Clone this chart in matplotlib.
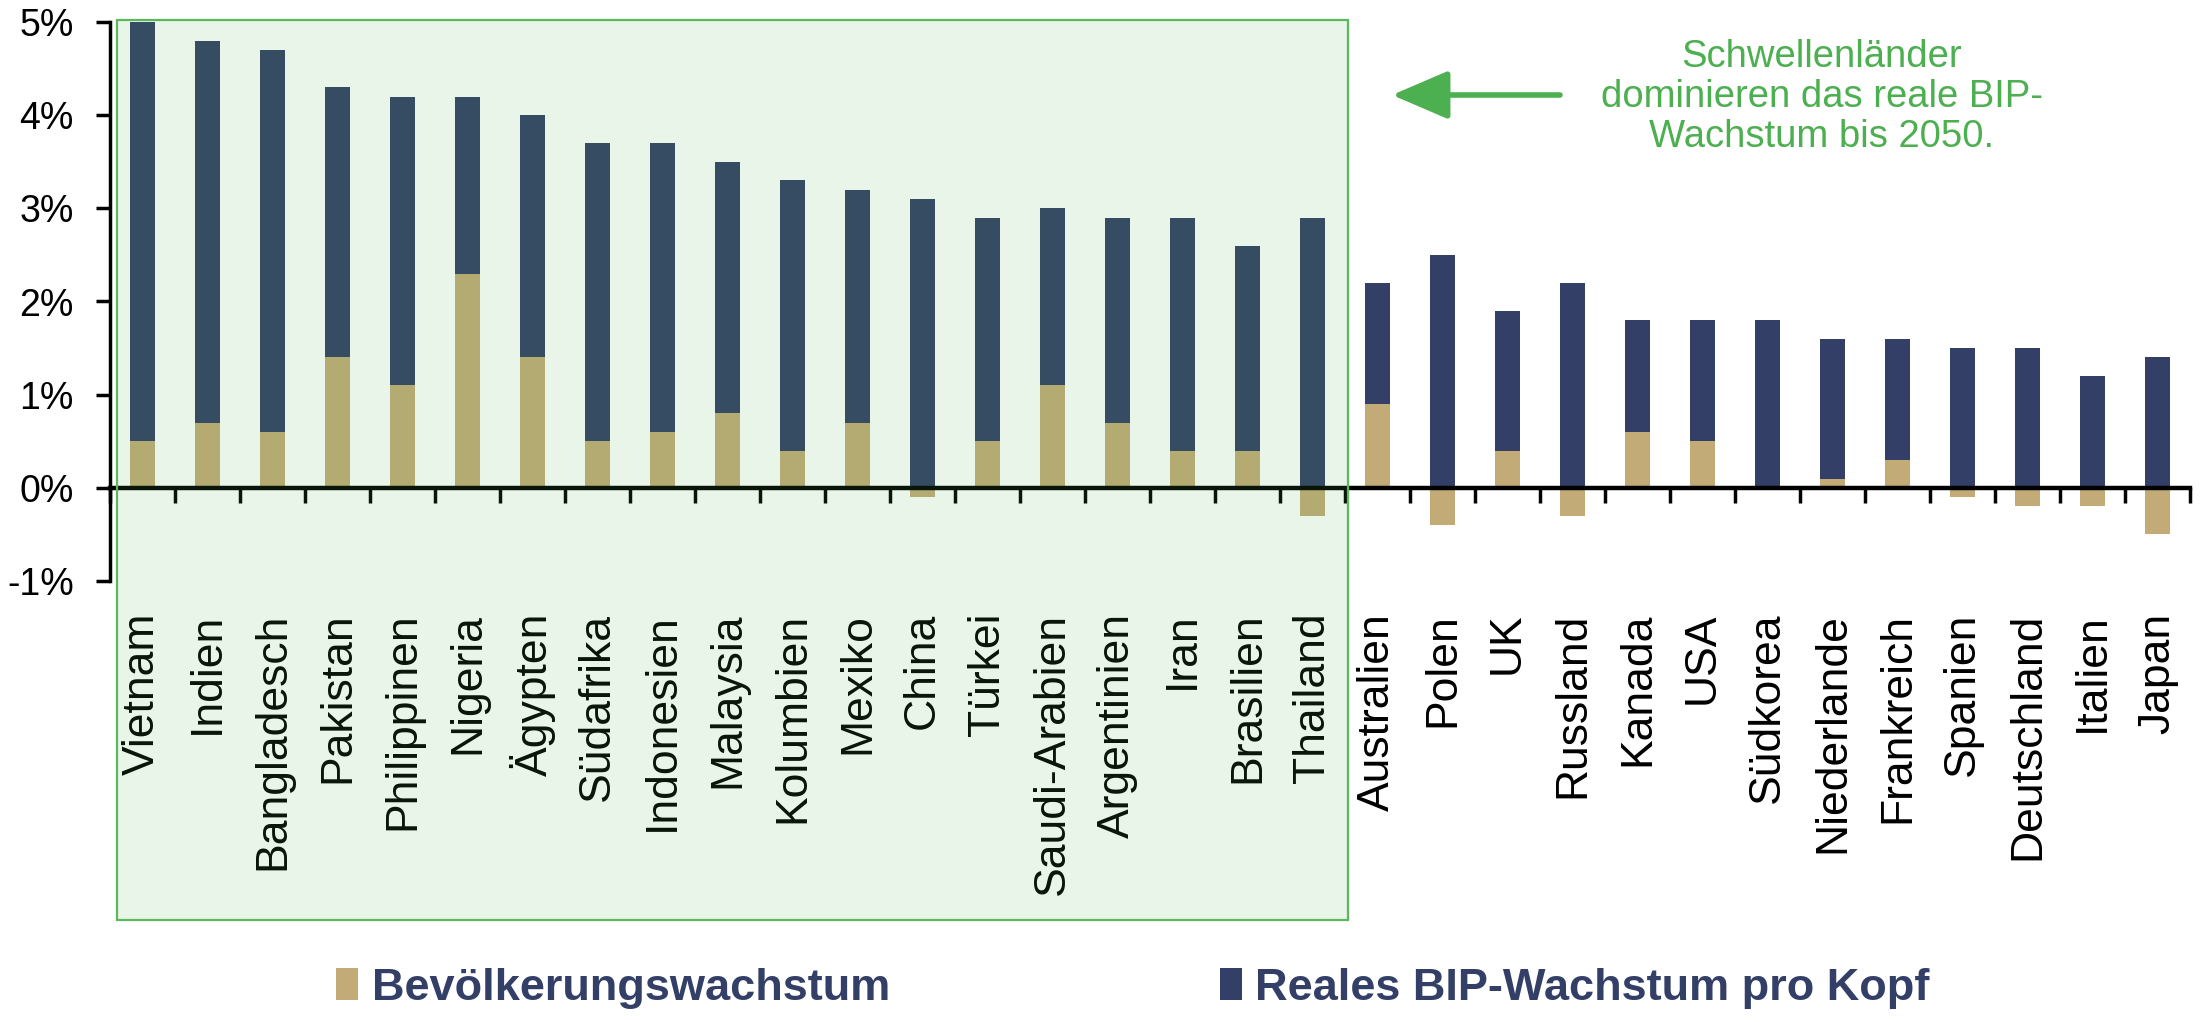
import numpy as np
import matplotlib
matplotlib.use('Agg')
import matplotlib.pyplot as plt
from matplotlib.patches import Rectangle, Patch

plt.rcParams['font.family'] = ['Liberation Sans', 'DejaVu Sans']

laender = ['Vietnam', 'Indien', 'Bangladesch', 'Pakistan', 'Philippinen', 'Nigeria',
           'Ägypten', 'Südafrika', 'Indonesien', 'Malaysia', 'Kolumbien', 'Mexiko',
           'China', 'Türkei', 'Saudi-Arabien', 'Argentinien', 'Iran', 'Brasilien',
           'Thailand', 'Australien', 'Polen', 'UK', 'Russland', 'Kanada', 'USA',
           'Südkorea', 'Niederlande', 'Frankreich', 'Spanien', 'Deutschland',
           'Italien', 'Japan']
# Bevoelkerungswachstum (%)
bevoelkerung = [0.5, 0.7, 0.6, 1.4, 1.1, 2.3, 1.4, 0.5, 0.6, 0.8, 0.4, 0.7,
                -0.1, 0.5, 1.1, 0.7, 0.4, 0.4, -0.3, 0.9, -0.4, 0.4, -0.3, 0.6,
                0.5, 0.0, 0.1, 0.3, -0.1, -0.2, -0.2, -0.5]
# Reales BIP-Wachstum pro Kopf (%)
bip_pro_kopf = [4.5, 4.1, 4.1, 2.9, 3.1, 1.9, 2.6, 3.2, 3.1, 2.7, 2.9, 2.5,
                3.1, 2.4, 1.9, 2.2, 2.5, 2.2, 2.9, 1.3, 2.5, 1.5, 2.2, 1.2,
                1.3, 1.8, 1.5, 1.3, 1.5, 1.5, 1.2, 1.4]
y_ticks = [-1, 0, 1, 2, 3, 4, 5]
y_labels = ['-1%', '0%', '1%', '2%', '3%', '4%', '5%']

navy = '#333F66'
tan = '#C2AB76'
green = '#4CAF50'

fig = plt.figure(figsize=(22.02, 10.22), dpi=100)
ax = fig.add_axes([110/2202, 441/1022, 2080/2202, 559/1022])

x = np.arange(len(laender))
pop = np.array(bevoelkerung)
ax.bar(x, pop, width=0.39, color=tan, zorder=2)
ax.bar(x, bip_pro_kopf, width=0.39, bottom=np.maximum(pop, 0), color=navy, zorder=2)

ax.set_xlim(-0.5, len(laender) - 0.5)
ax.set_ylim(-1, 5)
ax.set_yticks(y_ticks)
ax.set_yticklabels(y_labels, fontsize=27)
ax.tick_params(axis='y', direction='out', length=10, width=2.5, pad=16)

ax.spines['top'].set_visible(False)
ax.spines['right'].set_visible(False)
ax.spines['bottom'].set_position(('data', 0))
ax.spines['bottom'].set_linewidth(3.2)
ax.spines['left'].set_linewidth(2.5)
ax.spines['bottom'].set_zorder(3)

ax.set_xticks(x)
ax.set_xticklabels(laender, rotation=90, fontsize=32, va='top')
ax.set_xticks(np.arange(-0.5, len(laender), 1), minor=True)
ax.tick_params(axis='x', which='major', length=0, pad=90)
ax.tick_params(axis='x', which='minor', direction='out', length=11, width=2.5)

# Schwellenlaender-Box
box = Rectangle((117/2202, 1 - 920/1022), 1231/2202, 900/1022,
                transform=fig.transFigure, facecolor=(76/255, 175/255, 80/255, 0.12),
                edgecolor='#5CB85C', linewidth=1.6, zorder=5)
fig.add_artist(box)

fig.text(1822/2202, 1 - 97/1022,
         'Schwellenländer\ndominieren das reale BIP-\nWachstum bis 2050.',
         ha='center', va='center', fontsize=27.5, color=green, linespacing=1.15)
ax.annotate('', xy=(1392, 1022 - 95), xycoords='figure pixels',
            xytext=(1560, 1022 - 95), textcoords='figure pixels',
            arrowprops=dict(arrowstyle='-|>,head_length=1.4,head_width=0.6',
                            color=green, lw=4, mutation_scale=25,
                            shrinkA=0, shrinkB=0))

handles = [Patch(facecolor=tan, label='Bevölkerungswachstum'),
           Patch(facecolor=navy, label='Reales BIP-Wachstum pro Kopf')]
leg = fig.legend(handles=handles, loc='center', bbox_to_anchor=(1133/2202, 1 - 988/1022),
                 ncol=2, frameon=False, handlelength=0.49,
                 handleheight=0.7, handletextpad=0.3, columnspacing=7.3,
                 prop={'weight': 'bold', 'size': 32.5})
for t in leg.get_texts():
    t.set_color(navy)

fig.savefig('out.png', dpi=100)
